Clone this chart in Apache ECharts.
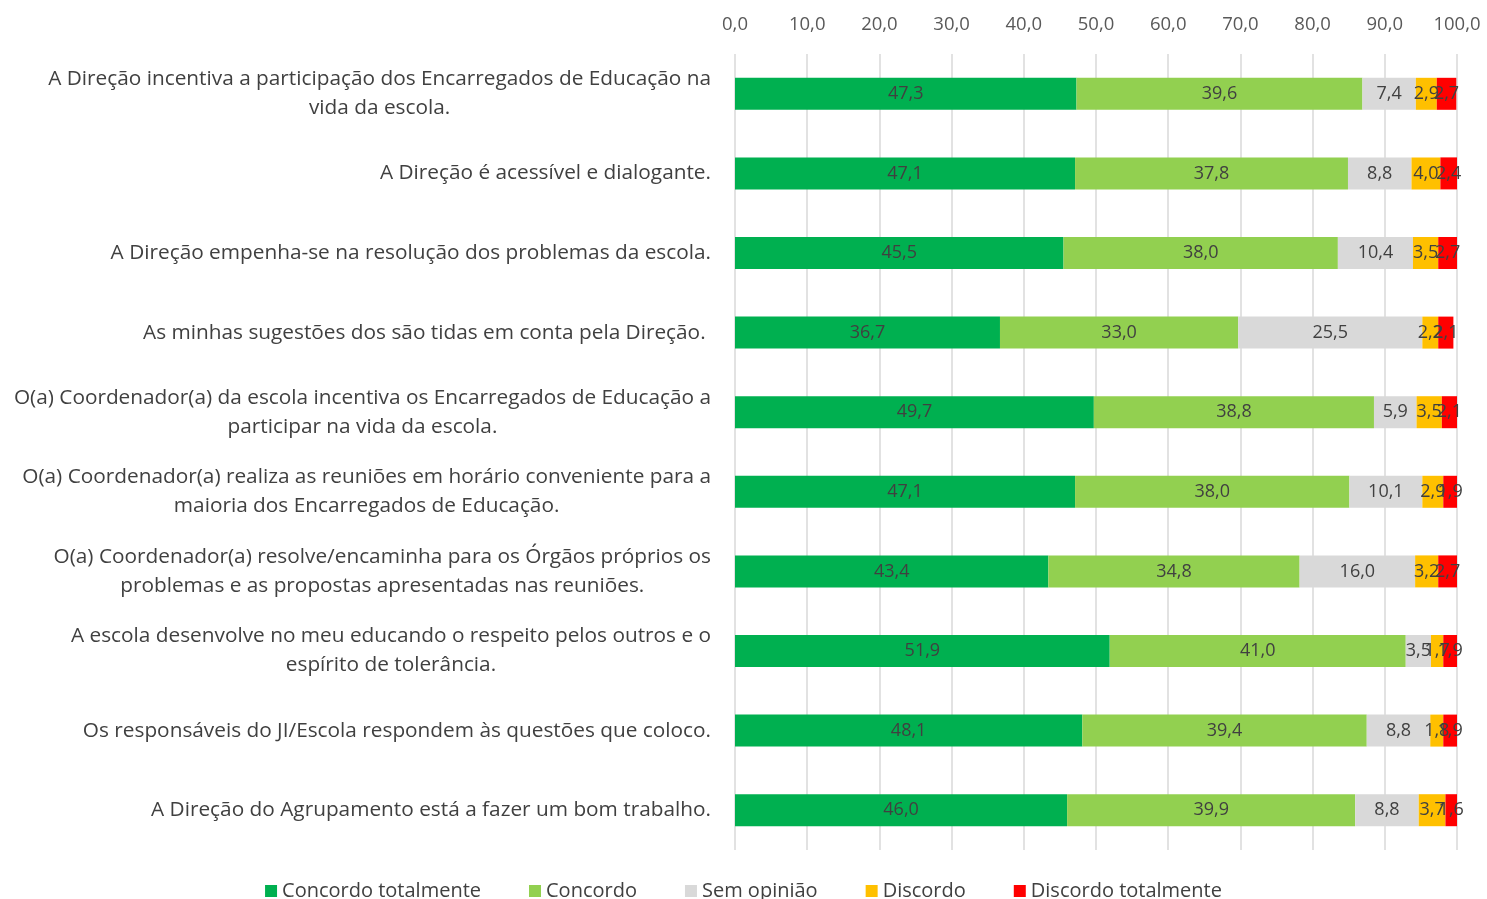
<!DOCTYPE html>
<html>
<head>
<meta charset="utf-8">
<script src="https://cdn.jsdelivr.net/npm/echarts@6/dist/echarts.min.js"></script>
<style>
html,body{margin:0;padding:0;background:#fff;}
#chart{width:1487px;height:899px;}
</style>
</head>
<body>
<div id="chart"></div>
<script>
var categories = [
  "A Direção incentiva a participação dos Encarregados de Educação na\nvida da escola.",
  "A Direção é acessível e dialogante.",
  "A Direção empenha-se na resolução dos problemas da escola.",
  "As minhas sugestões dos são tidas em conta pela Direção. ",
  "O(a) Coordenador(a) da escola incentiva os Encarregados de Educação a\nparticipar na vida da escola.",
  "O(a) Coordenador(a) realiza as reuniões em horário conveniente para a\nmaioria dos Encarregados de Educação.",
  "O(a) Coordenador(a) resolve/encaminha para os Órgãos próprios os\nproblemas e as propostas apresentadas nas reuniões.",
  "A escola desenvolve no meu educando o respeito pelos outros e o\nespírito de tolerância.",
  "Os responsáveis do JI/Escola respondem às questões que coloco.",
  "A Direção do Agrupamento está a fazer um bom trabalho."
];
var seriesNames = ["Concordo totalmente", "Concordo", "Sem opinião", "Discordo", "Discordo totalmente"];
var concordoTotalmente = [47.3, 47.1, 45.5, 36.7, 49.7, 47.1, 43.4, 51.9, 48.1, 46.0];
var concordo = [39.6, 37.8, 38.0, 33.0, 38.8, 38.0, 34.8, 41.0, 39.4, 39.9];
var semOpiniao = [7.4, 8.8, 10.4, 25.5, 5.9, 10.1, 16.0, 3.5, 8.8, 8.8];
var discordo = [2.9, 4.0, 3.5, 2.2, 3.5, 2.9, 3.2, 1.7, 1.8, 3.7];
var discordoTotalmente = [2.7, 2.4, 2.7, 2.1, 2.1, 1.9, 2.7, 1.9, 1.9, 1.6];
var colors = ["#00B050", "#92D050", "#D9D9D9", "#FFC000", "#FF0000"];

var FONT = "Open Sans";
var allData = [concordoTotalmente, concordo, semOpiniao, discordo, discordoTotalmente];
function fmt(v){ return Number(v).toFixed(1).replace('.', ','); }

var series = allData.map(function(d, i){
  return {
    name: seriesNames[i],
    type: 'bar',
    stack: 'total',
    barWidth: 32,
    data: d,
    itemStyle: { color: colors[i] },
    label: {
      show: true,
      position: 'inside',
      color: '#404040',
      fontFamily: FONT,
      fontSize: 18,
      formatter: function(p){ return fmt(p.value); }
    }
  };
});

var chart = echarts.init(document.getElementById('chart'));
chart.setOption({
  animation: false,
  color: colors,
  grid: { left: 735, right: 30, top: 54, bottom: 49, containLabel: false },
  xAxis: {
    type: 'value',
    position: 'top',
    min: 0, max: 100, interval: 10,
    axisLine: { show: false },
    axisTick: { show: false },
    splitLine: { show: true, lineStyle: { color: '#D9D9D9', width: 1.5 } },
    axisLabel: {
      margin: 20,
      color: '#595959',
      fontFamily: FONT,
      fontSize: 18.5,
      formatter: function(v){ return fmt(v); }
    }
  },
  yAxis: {
    type: 'category',
    inverse: true,
    data: categories,
    axisLine: { show: false },
    axisTick: { show: false },
    axisLabel: {
      margin: 24,
      align: 'right',
      color: '#404040',
      fontFamily: FONT,
      fontSize: 20.8,
      lineHeight: 29,
      formatter: function(v){
        return v.split('\n').map(function(l){ return '{c|' + l + '}'; }).join('\n');
      },
      rich: {
        c: { align: 'center', color: '#404040', fontFamily: FONT, fontSize: 20.8, lineHeight: 29 }
      }
    }
  },
  legend: {
    bottom: -7,
    left: 'center',
    itemWidth: 12,
    itemHeight: 12,
    itemGap: 48,
    icon: 'rect',
    textStyle: { color: '#404040', fontFamily: FONT, fontSize: 20 },
    data: seriesNames
  },
  series: series
});
</script>
</body>
</html>
